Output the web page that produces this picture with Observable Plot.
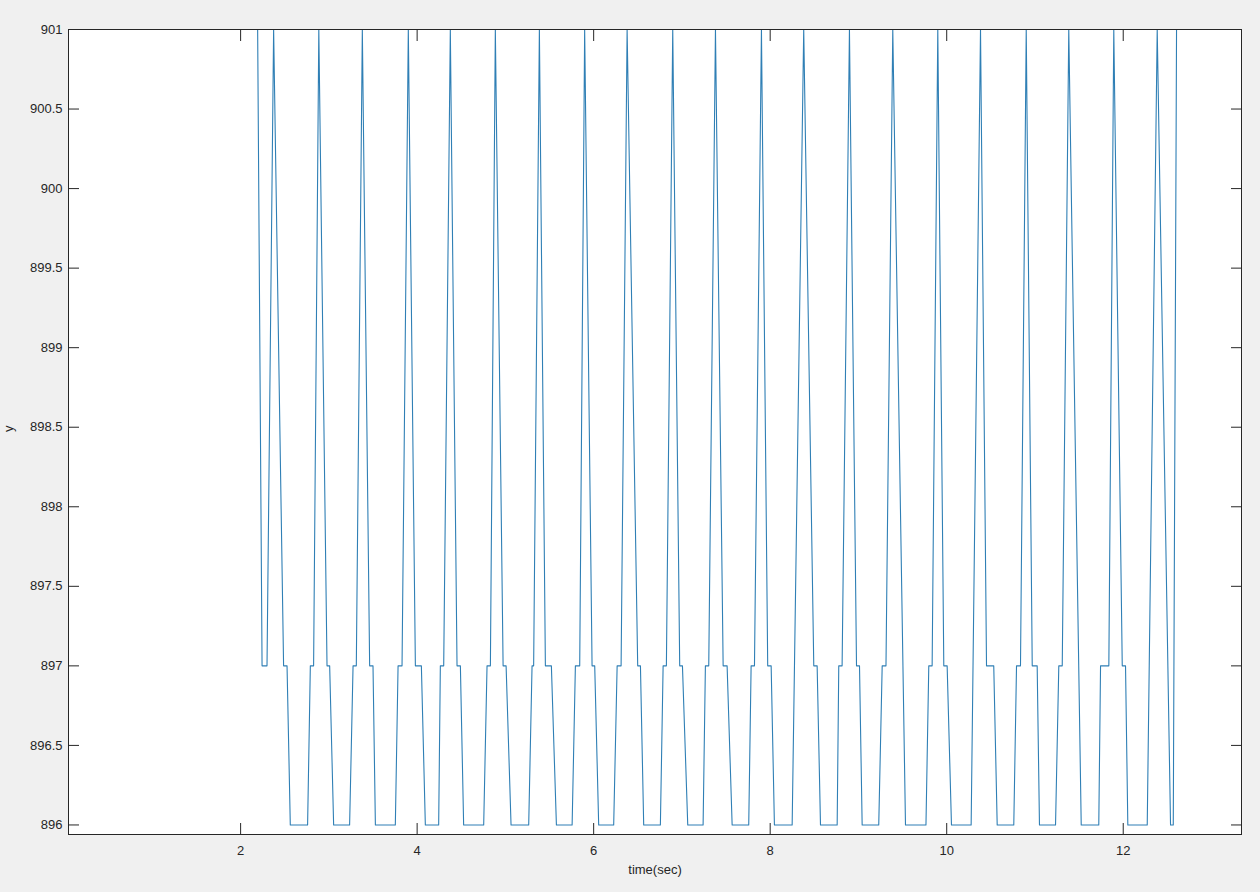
<!DOCTYPE html>
<html><head><meta charset="utf-8">
<script src="https://cdn.jsdelivr.net/npm/d3@7"></script>
<script src="https://cdn.jsdelivr.net/npm/@observablehq/plot@0.6"></script>
<style>html,body{margin:0;padding:0;background:#f0f0f0;overflow:hidden;} #chart{width:1260px;height:892px;}</style>
</head><body><div id="chart"></div>
<script>
// Signal vertices: time (s) and y value
const timeSec = [
  0.05, 2.193, 2.243, 2.299, 2.374,
  2.487, 2.526, 2.563, 2.759, 2.790, 2.827, 2.886,
  2.979, 3.009, 3.054, 3.235, 3.274, 3.311, 3.379,
  3.462, 3.500, 3.527, 3.753, 3.784, 3.829, 3.900,
  3.980, 4.048, 4.093, 4.244, 4.263, 4.301, 4.376,
  4.452, 4.490, 4.527, 4.754, 4.792, 4.830, 4.886,
  4.974, 5.008, 5.064, 5.264, 5.302, 5.320, 5.385,
  5.453, 5.521, 5.578, 5.756, 5.793, 5.842, 5.898,
  5.982, 6.012, 6.057, 6.227, 6.266, 6.311, 6.379,
  6.499, 6.530, 6.567, 6.756, 6.787, 6.824, 6.896,
  6.975, 7.006, 7.066, 7.240, 7.266, 7.304, 7.380,
  7.467, 7.512, 7.569, 7.757, 7.784, 7.822, 7.901,
  7.972, 8.011, 8.048, 8.249, 8.380,
  8.494, 8.532, 8.570, 8.759, 8.777, 8.815, 8.898,
  8.978, 9.012, 9.042, 9.230, 9.269, 9.312, 9.389,
  9.533, 9.765, 9.797, 9.835, 9.899,
  9.967, 10.005, 10.054, 10.277, 10.383,
  10.451, 10.533, 10.572, 10.760, 10.791, 10.836, 10.901,
  10.969, 11.025, 11.051, 11.233, 11.270, 11.309, 11.383,
  11.524, 11.723, 11.743, 11.837, 11.893,
  11.989, 12.026, 12.052, 12.272, 12.385,
  12.536, 12.567, 12.604
];
const yValue = [
  901, 901, 897, 897, 901,
  897, 897, 896, 896, 897, 897, 901,
  897, 897, 896, 896, 897, 897, 901,
  897, 897, 896, 896, 897, 897, 901,
  897, 897, 896, 896, 897, 897, 901,
  897, 897, 896, 896, 897, 897, 901,
  897, 897, 896, 896, 897, 897, 901,
  897, 897, 896, 896, 897, 897, 901,
  897, 897, 896, 896, 897, 897, 901,
  897, 897, 896, 896, 897, 897, 901,
  897, 897, 896, 896, 897, 897, 901,
  897, 897, 896, 896, 897, 897, 901,
  897, 897, 896, 896, 901,
  897, 897, 896, 896, 897, 897, 901,
  897, 897, 896, 896, 897, 897, 901,
  896, 896, 897, 897, 901,
  897, 897, 896, 896, 901,
  897, 897, 896, 896, 897, 897, 901,
  897, 897, 896, 896, 897, 897, 901,
  896, 896, 897, 897, 901,
  897, 897, 896, 896, 901,
  896, 896, 901
];
const xTicks = [2, 4, 6, 8, 10, 12];
const yTicks = [896, 896.5, 897, 897.5, 898, 898.5, 899, 899.5, 900, 900.5, 901];
const xLabel = "time(sec)";
const yLabel = "y";

const data = timeSec.map((t, i) => ({t, v: yValue[i]}));
const fmt = d => String(d);
const blank = () => "";
const ink = "#262626";
const fs = 13;

const chart = Plot.plot({
  width: 1260, height: 892,
  marginLeft: 68, marginRight: 19, marginTop: 29, marginBottom: 58,
  style: {background: "#f0f0f0", fontFamily: "'Liberation Sans', Arial, sans-serif", fontSize: "13px", color: ink},
  x: {domain: [0.05, 13.34]},
  y: {domain: [895.94, 901]},
  marks: [
    Plot.frame({fill: "white", stroke: "none"}),
    Plot.line(data, {x: "t", y: "v", stroke: "#2f7fb5", strokeWidth: 1.1}),
    Plot.frame({stroke: ink, strokeWidth: 1}),
    Plot.axisX({anchor: "bottom", ticks: xTicks, tickSize: 0, tickPadding: 11, tickFormat: fmt, label: null, fontSize: fs}),
    Plot.axisX({anchor: "bottom", ticks: xTicks, tickSize: 11, tickPadding: 0, dy: -11, tickFormat: blank, label: null}),
    Plot.axisX({anchor: "top", ticks: xTicks, tickSize: 11, tickPadding: 0, dy: 11, tickFormat: blank, label: null}),
    Plot.axisY({anchor: "left", ticks: yTicks, tickSize: 0, tickPadding: 6, tickFormat: fmt, label: null, fontSize: fs}),
    Plot.axisY({anchor: "left", ticks: yTicks, tickSize: 11, tickPadding: 0, dx: 11, tickFormat: blank, label: null}),
    Plot.axisY({anchor: "right", ticks: yTicks, tickSize: 11, tickPadding: 0, dx: -11, tickFormat: blank, label: null}),
    Plot.text([xLabel], {frameAnchor: "bottom", dy: 39, text: d => d, fontSize: fs, fill: ink}),
    Plot.text([yLabel], {frameAnchor: "left", dx: -60, rotate: -90, text: d => d, fontSize: fs, fill: ink})
  ]
});
document.getElementById("chart").append(chart);
</script>
</body></html>
